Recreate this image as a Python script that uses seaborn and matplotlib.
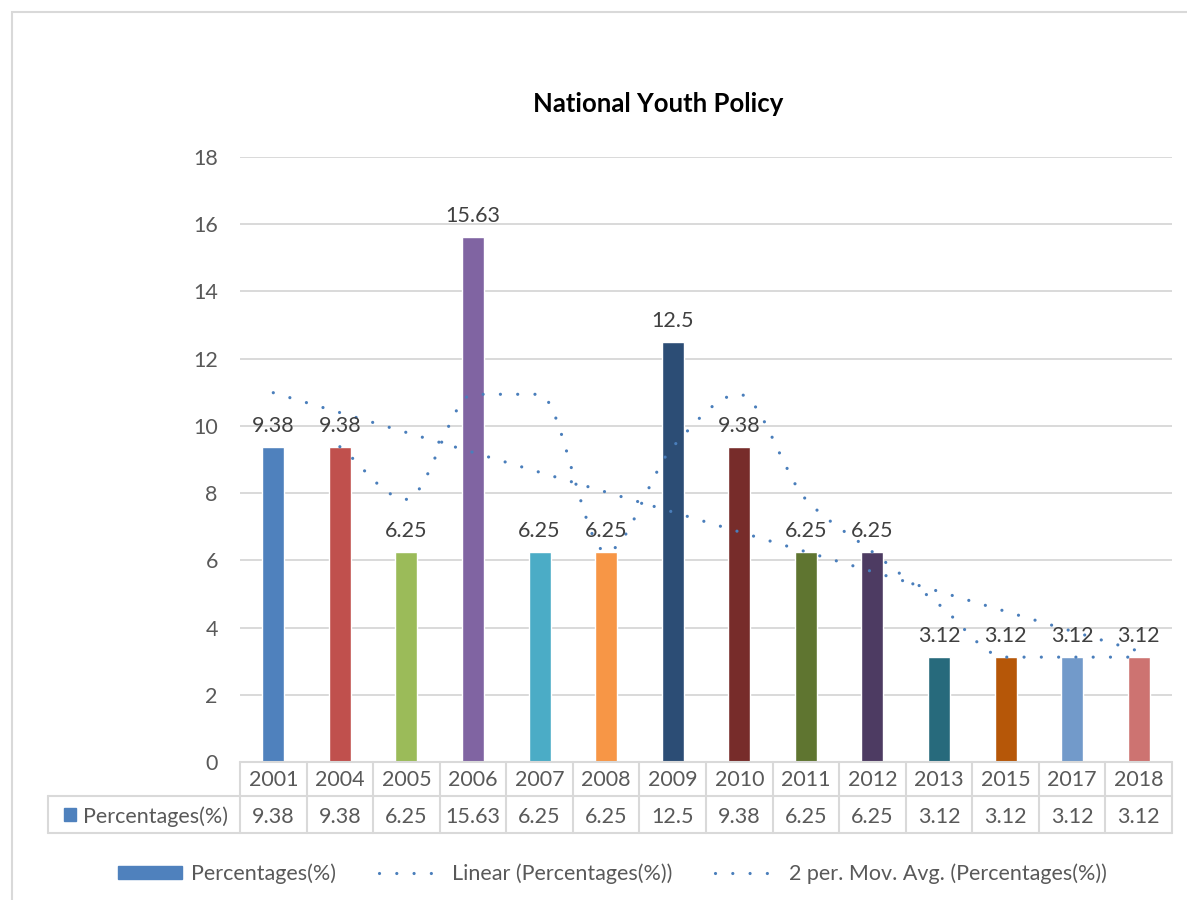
import numpy as np
import pandas as pd
import seaborn as sns
import matplotlib.pyplot as plt
from matplotlib.path import Path
from matplotlib.patches import PathPatch, Rectangle
from matplotlib.lines import Line2D

years = ["2001", "2004", "2005", "2006", "2007", "2008", "2009",
         "2010", "2011", "2012", "2013", "2015", "2017", "2018"]
percentages = [9.38, 9.38, 6.25, 15.63, 6.25, 6.25, 12.5,
               9.38, 6.25, 6.25, 3.12, 3.12, 3.12, 3.12]
bar_colors = ["#4F81BD", "#C0504D", "#9BBB59", "#8064A2", "#4BACC6", "#F79646", "#2C4D75",
              "#772C2A", "#5F7530", "#4D3B62", "#276A7C", "#B65708", "#729ACA", "#CD7371"]
series_name = "Percentages(%)"

sns.set_style("white")
plt.rcParams["font.family"] = ["Lato", "DejaVu Sans"]
FS = 15.5

df = pd.DataFrame({"year": years, "pct": percentages})

W, H = 1187, 900
fig = plt.figure(figsize=(W / 100, H / 100), dpi=100)
left, right, top, bottom = 240, 1172, 157, 762
ax = fig.add_axes([left / W, 1 - bottom / H, (right - left) / W, (bottom - top) / H])

sns.barplot(data=df, x="year", y="pct", hue="year", palette=bar_colors,
            width=0.33, legend=False, ax=ax, saturation=1)

ax.set_ylim(0, 18)
ax.set_xlim(-0.5, len(years) - 0.5)
ax.set_yticks(range(0, 19, 2))
ax.yaxis.grid(True, color="#D9D9D9", lw=1.4)
ax.set_axisbelow(True)
for s in ax.spines.values():
    s.set_visible(False)
ax.set_xticks([])
ax.set_xlabel("")
ax.set_ylabel("")
ax.tick_params(axis="y", length=0, pad=16, labelsize=FS, labelcolor="#595959")

# data labels
for i, v in enumerate(percentages):
    ax.text(i, v + 0.32, f"{v:g}", ha="center", va="bottom", fontsize=FS, color="#404040")

# trendlines computed from the bar values (as Excel does)
xs = np.arange(len(years))
ys = np.array(percentages)
slope, icpt = np.polyfit(xs + 1, ys, 1)
dot_kw = dict(color="#4A7EBB", lw=2.3, dash_capstyle="round")
dots = (0, (0.01, 5.4))
ax.plot([xs[0], xs[-1]], [icpt + slope * 1, icpt + slope * len(xs)], linestyle=dots, **dot_kw)

# 2 period moving average, drawn as a smoothed curve (monotone tangents, no overshoot)
ma = (ys[1:] + ys[:-1]) / 2
mx = xs[1:].astype(float)
d = np.diff(ma) / np.diff(mx)
m = np.zeros_like(ma)
for k in range(1, len(ma) - 1):
    if d[k - 1] * d[k] > 0:
        m[k] = 2 / (1 / d[k - 1] + 1 / d[k])
m[0], m[-1] = d[0], d[-1]
verts = [(mx[0], ma[0])]
codes = [Path.MOVETO]
for k in range(len(ma) - 1):
    hstep = mx[k + 1] - mx[k]
    verts += [(mx[k] + hstep / 3, ma[k] + m[k] * hstep / 3),
              (mx[k + 1] - hstep / 3, ma[k + 1] - m[k + 1] * hstep / 3),
              (mx[k + 1], ma[k + 1])]
    codes += [Path.CURVE4] * 3
ax.add_patch(PathPatch(Path(verts, codes), fill=False, edgecolor="#4A7EBB", lw=2.3,
                       linestyle=dots, capstyle="round"))

# data table under the plot
tr = ax.get_xaxis_transform()
grid_c = "#D9D9D9"
h = bottom - top
y_mid = -(796 - bottom) / h
y_bot = -(833 - bottom) / h
x_left = (48 - left) / ((right - left) / len(years)) - 0.5
line_kw = dict(color=grid_c, lw=1.5, transform=tr, clip_on=False)
ax.add_line(Line2D([-0.5, len(years) - 0.5], [0, 0], **line_kw))
ax.add_line(Line2D([x_left, len(years) - 0.5], [y_mid, y_mid], **line_kw))
ax.add_line(Line2D([x_left, len(years) - 0.5], [y_bot, y_bot], **line_kw))
ax.add_line(Line2D([x_left, x_left], [y_mid, y_bot], **line_kw))
for k in range(len(years) + 1):
    ax.add_line(Line2D([k - 0.5, k - 0.5], [0, y_bot], **line_kw))
for i, (yr, v) in enumerate(zip(years, percentages)):
    ax.text(i, -(780 - bottom) / h, yr, transform=tr, ha="center", va="center",
            fontsize=FS, color="#595959")
    ax.text(i, -(817 - bottom) / h, f"{v:g}", transform=tr, ha="center", va="center",
            fontsize=FS, color="#595959")
fig.add_artist(Rectangle((64 / W, 1 - 821 / H), 12 / W, 13 / H, color="#4F81BD",
                         transform=fig.transFigure))
fig.text(83 / W, 1 - 817 / H, series_name, ha="left", va="center", fontsize=FS, color="#595959")

# title
fig.text(658 / W, 1 - 104 / H, "National Youth Policy", ha="center", va="center",
         fontsize=18.5, fontweight="bold", color="black")

# legend
handles = [Rectangle((0, 0), 1, 1, color="#4F81BD"),
           Line2D([], [], linestyle=dots, **dot_kw),
           Line2D([], [], linestyle=dots, **dot_kw)]
labels = [series_name, "Linear (Percentages(%))", "2 per. Mov. Avg. (Percentages(%))"]
leg = fig.legend(handles, labels, loc="center", bbox_to_anchor=(612 / W, 1 - 874 / H), ncol=3,
                 frameon=False, fontsize=FS, handlelength=3.0, handleheight=0.55,
                 columnspacing=2.0, handletextpad=0.4)
for t in leg.get_texts():
    t.set_color("#595959")

# outer chart border
fig.add_artist(Rectangle((12 / W, -0.1), 1.0, 1 - 12 / H + 0.1, fill=False,
                         edgecolor="#D9D9D9", lw=1.5, transform=fig.transFigure))

fig.savefig("out.png", dpi=100)
